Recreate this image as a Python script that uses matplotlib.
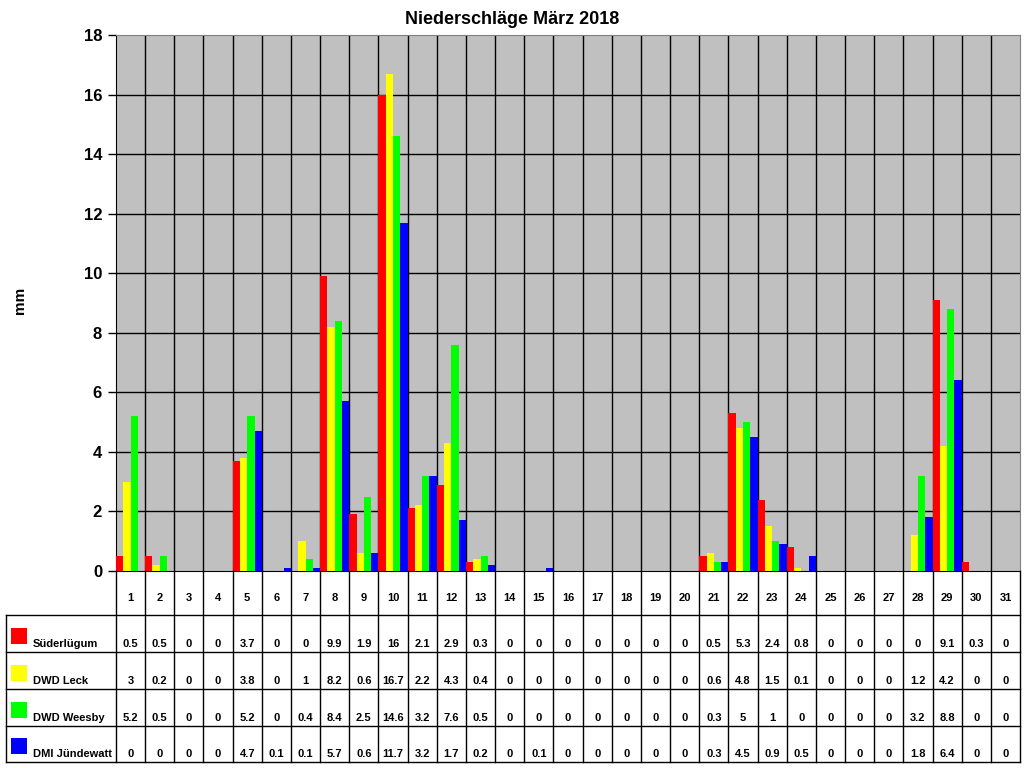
import numpy as np
import matplotlib.pyplot as plt
from matplotlib.patches import Rectangle

plt.rcParams['font.family'] = ['Liberation Sans', 'DejaVu Sans']

days = list(range(1, 32))
stations = ["Süderlügum", "DWD Leck", "DWD Weesby", "DMI Jündewatt"]
colors = ["#ff0000", "#ffff00", "#00ff00", "#0000ff"]

suederluegum = [0.5, 0.5, 0, 0, 3.7, 0, 0, 9.9, 1.9, 16, 2.1, 2.9, 0.3, 0, 0, 0,
                0, 0, 0, 0, 0.5, 5.3, 2.4, 0.8, 0, 0, 0, 0, 9.1, 0.3, 0]
leck = [3, 0.2, 0, 0, 3.8, 0, 1, 8.2, 0.6, 16.7, 2.2, 4.3, 0.4, 0, 0, 0,
        0, 0, 0, 0, 0.6, 4.8, 1.5, 0.1, 0, 0, 0, 1.2, 4.2, 0, 0]
weesby = [5.2, 0.5, 0, 0, 5.2, 0, 0.4, 8.4, 2.5, 14.6, 3.2, 7.6, 0.5, 0, 0, 0,
          0, 0, 0, 0, 0.3, 5, 1, 0, 0, 0, 0, 3.2, 8.8, 0, 0]
juendewatt = [0, 0, 0, 0, 4.7, 0.1, 0.1, 5.7, 0.6, 11.7, 3.2, 1.7, 0.2, 0, 0.1, 0,
              0, 0, 0, 0, 0.3, 4.5, 0.9, 0.5, 0, 0, 0, 1.8, 6.4, 0, 0]
series = [suederluegum, leck, weesby, juendewatt]

W, H = 1024, 768
fig = plt.figure(figsize=(W / 100, H / 100), dpi=100)

# Diagrammfläche
L, R, T, B = 116, 1020, 35, 571
ax = fig.add_axes([L / W, (H - B) / H, (R - L) / W, (B - T) / H])
ax.set_facecolor("#c0c0c0")
x = np.array(days)
bw = 0.25
for i, (vals, c) in enumerate(zip(series, colors)):
    ax.bar(x + (i - 1.5) * bw, vals, width=bw, color=c, edgecolor="none", zorder=3)

ax.set_xlim(0.5, 31.5)
ax.set_ylim(0, 18)
ax.set_yticks(range(0, 19, 2))
ax.set_yticklabels([str(v) for v in range(0, 19, 2)], fontsize=12, fontweight="bold")
ax.set_xticks([])
ax.tick_params(axis="y", length=6, width=1, direction="out", pad=4)
for yv in range(2, 18, 2):
    ax.axhline(yv, color="black", lw=1, zorder=1)
for k in range(1, 31):
    ax.axvline(k + 0.5, color="black", lw=1, zorder=1)
ax.spines["left"].set_color("black")
ax.spines["bottom"].set_color("black")
ax.spines["top"].set_color("#808080")
ax.spines["right"].set_color("#808080")

fig.text(0.5, 1 - 20 / H, "Niederschläge März 2018", ha="center", va="center",
         fontsize=13, fontweight="bold")
fig.text(20 / W, 1 - 300 / H, "mm", ha="center", va="center", rotation=90,
         fontsize=11, fontweight="bold")

# Datentabelle
tb = 762
tax = fig.add_axes([L / W, (H - tb) / H, (R - L) / W, (tb - B) / H])
tax.set_xlim(0.5, 31.5)
tax.set_ylim(tb, B)
tax.axis("off")


def px2day(px):
    return 0.5 + (px - L) / (R - L) * 31


xl = px2day(6)
rows = [615, 652, 689, 726, 762]
for k in range(32):
    tax.plot([k + 0.5, k + 0.5], [B, tb], color="black", lw=1, clip_on=False)
tax.plot([xl, xl], [rows[0], tb], color="black", lw=1, clip_on=False)
for yv in rows:
    tax.plot([xl, 31.5], [yv, yv], color="black", lw=1, clip_on=False)

for d in days:
    tax.text(d, 598, str(d), ha="center", va="center", fontsize=8, fontweight="bold")

for r, (name, c, vals) in enumerate(zip(stations, colors, series)):
    yb = rows[r + 1]
    tax.add_patch(Rectangle((px2day(11), yb - 24), px2day(27) - px2day(11), 16,
                            facecolor=c, edgecolor="none", clip_on=False))
    tax.text(px2day(33), yb - 8, name, ha="left", va="center", fontsize=8,
             fontweight="bold", clip_on=False)
    for d, v in zip(days, vals):
        tax.text(d, yb - 8, f"{v:g}", ha="center", va="center", fontsize=8,
                 fontweight="bold")

fig.savefig("out.png", dpi=100)
